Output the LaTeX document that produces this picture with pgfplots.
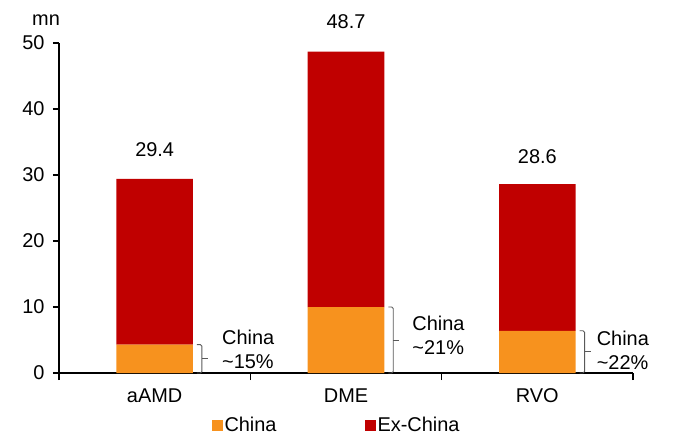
\documentclass[border=0pt]{standalone}
\usepackage{fontspec}
\setmainfont{Liberation Sans}
\usepackage{pgfplots}
\pgfplotsset{compat=1.18}
\definecolor{chinaorange}{HTML}{F7921E}
\definecolor{exred}{HTML}{C00000}
\definecolor{bracegray}{HTML}{595959}

% Prevalence split by region, millions
\pgfplotstableread{
x china exchina total
0 4.3  25.1 29.4
1 10.0 38.7 48.7
2 6.4  22.2 28.6
}\prevtable

\newcommand{\lbl}{\fontsize{20}{24}\selectfont}

% square bracket with a small tip, from top y to bottom y at given x
\newcommand{\sharebrace}[3]{%
  \draw[bracegray, line width=0.9pt, rounded corners=1.5bp]
    ([xshift=4bp]axis cs:#1,#2) -- ([xshift=9bp]axis cs:#1,#2)
    -- ([xshift=9bp]axis cs:#1,#3) -- ([xshift=4bp]axis cs:#1,#3);
  \draw[bracegray, line width=0.9pt]
    ([xshift=9bp]axis cs:#1,{(#2+#3)/2}) -- ([xshift=15bp]axis cs:#1,{(#2+#3)/2});
}

\begin{document}
\begin{tikzpicture}[x=1bp,y=1bp]
\begin{axis}[
  scale only axis,
  width=574bp, height=330bp,
  xmin=-0.5, xmax=2.5,
  ymin=0, ymax=50,
  ybar stacked,
  bar width=0.4,
  axis x line*=bottom,
  axis y line*=left,
  axis line style={black, line width=1.2pt},
  ytick={0,10,...,50},
  xtick={0,1,2},
  xticklabels={aAMD,DME,RVO},
  minor xtick={-0.5,0.5,1.5,2.5},
  major x tick style={draw=none},
  minor x tick style={black, line width=1.2pt},
  minor tick length=7bp,
  major tick length=6bp,
  y tick style={black, line width=1.2pt},
  tick align=outside,
  tick label style={font=\lbl},
  /pgf/number format/assume math mode=true,
  yticklabel style={xshift=-5bp},
  xticklabel style={yshift=-6bp},
  legend style={draw=none, inner sep=0pt, outer sep=0pt,
    at={(rel axis cs:0.2666,0)}, anchor=west, yshift=-52bp,
    legend columns=2, font=\lbl,
    nodes={inner sep=1.5bp},
    /tikz/every even column/.append style={column sep=87bp}},
  legend image code/.code={\fill[#1] (0bp,-5.5bp) rectangle (11bp,5.5bp);},
  clip=false,
]
\addplot[fill=chinaorange, draw=none] table[x=x, y=china] {\prevtable};
\addlegendentry{China}
\addplot[fill=exred, draw=none] table[x=x, y=exchina] {\prevtable};
\addlegendentry{Ex-China}

% totals above bars
\node[font=\lbl] at (axis cs:0,29.4) [yshift=29bp] {29.4};
\node[font=\lbl] at (axis cs:1,48.7) [yshift=30bp] {48.7};
\node[font=\lbl] at (axis cs:2,28.6) [yshift=28bp] {28.6};

% China share brackets
\sharebrace{0.2}{4.3}{0}
\sharebrace{1.2}{10.0}{0}
\sharebrace{2.2}{6.4}{0}

\node[anchor=west, align=left, font=\lbl, inner sep=0pt]
  at ([xshift=29bp]axis cs:0.2,3.64) {China\\\textasciitilde15\%};
\node[anchor=west, align=left, font=\lbl, inner sep=0pt]
  at ([xshift=28bp]axis cs:1.2,5.76) {China\\\textasciitilde21\%};
\node[anchor=west, align=left, font=\lbl, inner sep=0pt]
  at ([xshift=21bp]axis cs:2.2,3.4) {China\\\textasciitilde22\%};

\node[font=\lbl] at (rel axis cs:0,1) [xshift=-13bp, yshift=23bp] {mn};
\end{axis}
\pgfresetboundingbox
\path[use as bounding box] (-59bp,-63bp) rectangle (614bp,373bp);
\end{tikzpicture}
\end{document}
